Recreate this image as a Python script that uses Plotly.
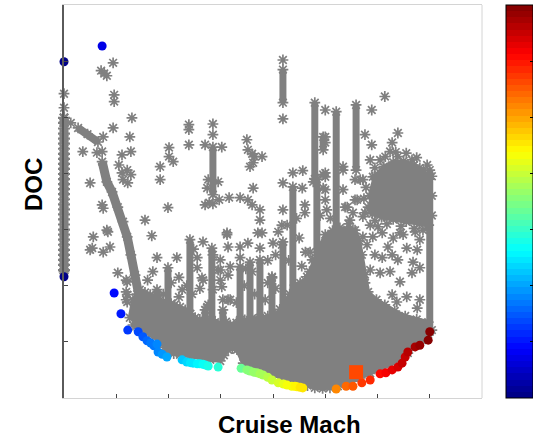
import plotly.graph_objects as go

# ---------------------------------------------------------------------------
# Design-space survey: DOC versus cruise Mach (normalised axis units)
# ---------------------------------------------------------------------------

# Pareto-optimal designs, coloured by cruise Mach
front_mach = [0.00, 0.73, 0.00, 0.96, 1.09, 1.22, 1.42, 1.51, 1.59, 1.66, 1.72,
              1.78, 1.80, 1.88, 1.97, 2.26, 2.35, 2.42, 2.47, 2.55, 2.60, 2.66,
              2.70, 2.76, 2.95, 3.39, 3.50, 3.56, 3.63, 3.69, 3.75, 3.81, 3.90,
              3.98, 4.10, 4.20, 4.27, 4.36, 4.42, 4.46, 4.52, 4.57, 5.21, 5.40,
              5.53, 5.70, 5.86, 6.05, 6.16, 6.28, 6.39, 6.47, 6.53, 6.58, 6.72,
              6.81, 6.97, 7.00]
front_doc = [5.99, 6.27, 2.16, 1.87, 1.50, 1.21, 1.18, 1.09, 1.02, 0.98, 0.93,
             0.96, 0.82, 0.78, 0.73, 0.68, 0.64, 0.63, 0.62, 0.61, 0.61, 0.60,
             0.59, 0.57, 0.55, 0.53, 0.50, 0.48, 0.46, 0.45, 0.43, 0.41, 0.37,
             0.32, 0.27, 0.25, 0.23, 0.21, 0.21, 0.20, 0.19, 0.18, 0.16, 0.21,
             0.21, 0.27, 0.32, 0.43, 0.45, 0.50, 0.55, 0.62, 0.73, 0.82, 0.91,
             0.94, 1.03, 1.18]

# Selected design
chosen_mach = [5.59]
chosen_doc = [0.46]

# Designs of the lowest-Mach sweep (Mach index 0)
left_sweep_doc = [2.28, 2.37, 2.46, 2.55, 2.64, 2.73, 2.82, 2.91, 3.00, 3.09,
                  3.18, 3.27, 3.36, 3.45, 3.54, 3.63, 3.72, 3.81, 3.90, 3.99,
                  4.08, 4.17, 4.26, 4.35, 4.44, 4.53, 4.62, 4.71, 4.80, 4.90,
                  4.99]

# Individually visible designs of the survey
gray_points = [
    (0.94, 5.97), (0.71, 5.83), (0.77, 5.78), (0.82, 5.74), (0.96, 5.40), (0.96, 5.28),
    (0.00, 5.42), (0.00, 5.17), (1.30, 4.99), (0.13, 4.90), (0.94, 4.81), (1.26, 4.65),
    (0.75, 4.65), (0.36, 4.39), (0.63, 4.37), (0.73, 4.39), (1.11, 4.33), (1.28, 4.39),
    (1.05, 4.15), (1.21, 4.06), (1.11, 4.01), (1.28, 3.98), (1.22, 3.83), (0.50, 3.83),
    (1.13, 3.89), (1.84, 4.12), (1.84, 3.89), (2.01, 4.46), (2.01, 4.30), (2.09, 4.21),
    (2.39, 4.87), (2.39, 4.78), (2.39, 4.51), (2.85, 4.88), (2.85, 4.69), (2.70, 4.51),
    (3.02, 4.47), (2.76, 3.89), (2.95, 3.85), (2.74, 3.74), (2.78, 3.48), (2.70, 3.44),
    (2.85, 3.46), (2.97, 3.53), (3.16, 3.57), (3.37, 3.57), (3.52, 3.53), (3.60, 3.44),
    (3.50, 4.60), (3.52, 4.42), (3.65, 4.30), (3.79, 4.30), (3.62, 4.19), (3.56, 4.12),
    (3.60, 4.35), (3.62, 3.74), (1.99, 3.39), (1.55, 3.17), (1.68, 2.89), (1.78, 2.50),
    (2.16, 2.50), (0.73, 3.44), (0.75, 3.38), (0.56, 2.87), (0.54, 2.67), (0.75, 2.60),
    (0.88, 2.69), (0.82, 2.99), (0.50, 2.64), (1.03, 2.23), (1.21, 2.07), (1.21, 1.84),
    (1.21, 1.71), (4.19, 6.02), (4.19, 4.97), (5.00, 5.13), (5.00, 4.65), (5.00, 4.55),
    (5.89, 5.13), (6.14, 5.37), (5.76, 4.69), (6.39, 4.72), (5.89, 4.51), (5.34, 4.12),
    (4.38, 4.01), (4.57, 4.05), (4.19, 3.83), (4.77, 3.85), (4.56, 3.74), (5.00, 3.94),
    (5.00, 3.71), (5.38, 3.40), (5.53, 3.30), (5.57, 3.89), (5.57, 3.53), (3.75, 3.35),
    (3.75, 3.17), (4.19, 3.35), (4.17, 3.08), (4.27, 3.08), (4.61, 3.44), (4.61, 3.30),
    (4.10, 2.96), (4.17, 2.73), (4.71, 2.60), (4.75, 2.46), (4.65, 2.16), (4.75, 1.98),
    (3.12, 2.94), (3.79, 2.94), (2.66, 2.78), (3.14, 2.69), (3.37, 2.69), (3.52, 2.76),
    (4.00, 2.76), (2.99, 2.28), (3.18, 2.34), (3.02, 1.98), (3.98, 2.14), (3.04, 1.75),
    (3.14, 1.75), (2.74, 1.62), (2.55, 2.50), (2.55, 2.32), (2.64, 2.14), (2.85, 1.93),
    (2.76, 1.66), (6.28, 4.55), (6.24, 4.39), (6.39, 4.30), (6.66, 4.24), (6.81, 4.10),
    (5.86, 4.24), (6.05, 4.24), (5.91, 3.94), (5.72, 3.89), (5.42, 3.40), (5.72, 3.23),
    (5.86, 3.08), (6.01, 3.05), (5.53, 2.99), (5.72, 2.87), (5.91, 2.87), (6.43, 2.94),
    (6.87, 2.99), (6.09, 2.94), (6.30, 2.85), (6.49, 2.91), (6.72, 2.96), (6.81, 2.82),
    (5.47, 2.78), (5.80, 2.73), (6.20, 2.69), (6.56, 2.67), (6.76, 2.64), (5.95, 2.55),
    (6.09, 2.50), (6.28, 2.55), (6.39, 2.46), (6.68, 2.42), (5.86, 2.28), (6.05, 2.23),
    (6.24, 2.25), (6.43, 2.07), (6.66, 2.23), (6.81, 2.32), (5.76, 2.05), (6.56, 1.80),
    (6.81, 1.75), (6.76, 1.60), (6.28, 1.84), (6.37, 1.71), (4.96, 3.98), (4.96, 3.74),
    (5.00, 3.53), (5.10, 3.20), (5.45, 3.10), (4.90, 3.25), (5.30, 2.75), (2.35, 2.00),
    (2.45, 1.85), (2.60, 1.95), (2.20, 1.80), (1.90, 1.85), (3.45, 2.00), (3.65, 1.85),
    (3.85, 1.75), (3.90, 2.05), (3.30, 1.70), (3.60, 2.25), (4.05, 1.95),
    (2.85, 2.55), (2.99, 2.46), (3.14, 2.19), (2.99, 2.10), (3.37, 2.50), (3.75, 2.67),
    (0.84, 2.96), (3.12, 2.91), (3.71, 2.94), (2.66, 2.10), (3.18, 1.75), (2.95, 2.28),
    (2.26, 1.93), (1.19, 2.10), (1.19, 1.89), (1.19, 1.75), (5.00, 4.01), (5.34, 4.06),
    (5.34, 3.71), (5.67, 3.89), (5.61, 3.53), (5.03, 3.35), (5.47, 3.17), (4.45, 3.20),
    (4.50, 2.85), (4.62, 2.60), (4.30, 2.45), (4.55, 2.35), (2.20, 2.15), (2.05, 2.05),
    (1.60, 2.10), (1.70, 2.25), (2.48, 2.65), (3.48, 2.30), (3.90, 2.45), (4.05, 2.55),
    (5.74, 3.55), (5.78, 3.75), (5.95, 4.10), (6.15, 4.30), (6.35, 4.38), (6.55, 4.36),
    (6.75, 4.28), (6.95, 4.15), (7.04, 3.95), (7.04, 3.60), (7.04, 3.25), (6.95, 3.02),
    (6.70, 3.02), (6.45, 3.06), (6.18, 3.10), (5.95, 3.16), (5.76, 3.30),
]

# Densely sampled sweeps at fixed Mach: (mach, lowest DOC, highest DOC)
streak_mach = [0.00, 2.85, 4.19, 4.80, 4.84, 5.21, 5.59, 4.38, 7.00, 2.41, 1.99,
               1.78, 2.83, 2.70, 3.04, 3.56, 3.75, 3.37, 4.19, 3.98, 4.96]
streak_low = [2.25, 3.62, 5.26, 3.90, 1.90, 2.82, 4.06, 1.75, 1.18, 1.39, 1.57,
              1.57, 1.39, 1.30, 1.30, 1.39, 1.39, 1.39, 1.57, 1.39, 4.42]
streak_high = [4.99, 4.47, 5.85, 5.26, 3.90, 5.10, 5.22, 3.76, 4.06, 2.82, 2.32,
               1.93, 2.67, 1.57, 1.57, 2.42, 2.46, 2.34, 2.78, 2.16, 4.65]

# Diagonal bands of designs at low Mach
band_mach = [0.73, 0.82, 0.92, 1.03, 1.13, 1.21, 1.28, 1.36, 1.45]
band_doc = [4.21, 3.85, 3.67, 3.40, 3.14, 2.87, 2.55, 2.19, 1.75]
band2_mach = [0.27, 0.45, 0.65]
band2_doc = [4.81, 4.70, 4.56]

# Outline of the solid low-DOC region of the survey
cloud_mach = [1.26, 1.32, 1.40, 1.45, 1.55, 1.65, 1.75, 1.84, 1.95, 2.05, 2.12,
              2.22, 2.32, 2.42, 2.51, 2.60, 2.70, 2.80, 2.89, 3.00, 3.10, 3.18,
              3.30, 3.46, 3.60, 3.75, 3.90, 4.04, 4.13, 4.23, 4.32, 4.42, 4.52,
              4.61, 4.70, 4.80, 4.90, 5.00, 5.14, 5.28, 5.42, 5.57, 5.65, 5.70,
              5.76, 5.82, 5.98, 6.14, 6.33, 6.53, 6.75, 6.97, 7.04,
              6.97, 6.85, 6.72, 6.58, 6.43, 6.25, 6.05, 5.86, 5.67, 5.52, 5.38,
              5.24, 5.09, 4.95, 4.80, 4.66, 4.52, 4.33, 4.13, 3.94, 3.75, 3.59,
              3.43, 3.31, 3.22, 3.14, 3.06, 2.99, 2.80, 2.60, 2.40, 2.22, 2.10,
              1.99, 1.92, 1.84, 1.70, 1.55, 1.43, 1.32]
cloud_doc = [1.43, 1.75, 1.85, 1.93, 1.88, 1.84, 1.80, 1.75, 1.70, 1.68, 1.66,
             1.62, 1.57, 1.50, 1.43, 1.40, 1.35, 1.38, 1.35, 1.33, 1.36, 1.30,
             1.34, 1.39, 1.42, 1.43, 1.46, 1.48, 1.58, 1.66, 1.85, 2.01, 2.05,
             2.10, 2.25, 2.46, 2.70, 2.91, 2.98, 3.03, 3.00, 2.99, 2.80, 2.55,
             2.20, 1.89, 1.75, 1.66, 1.55, 1.46, 1.40, 1.35, 1.21,
             1.14, 1.03, 0.93, 0.80, 0.70, 0.60, 0.52, 0.44, 0.36, 0.30, 0.25,
             0.21, 0.18, 0.17, 0.18, 0.22, 0.27, 0.32, 0.37, 0.44, 0.52, 0.57,
             0.62, 0.86, 0.88, 0.86, 0.76, 0.66, 0.68, 0.71, 0.74, 0.77, 0.79,
             0.82, 0.90, 1.00, 1.10, 1.18, 1.24, 1.30]

# Outline of the dense core of the high-Mach cluster
cluster_mach = [5.85, 5.95, 6.12, 6.30, 6.50, 6.70, 6.88, 6.98, 6.98, 6.80, 6.55,
                6.30, 6.08, 5.90, 5.82]
cluster_doc = [3.60, 3.95, 4.12, 4.20, 4.22, 4.15, 4.05, 3.90, 3.08, 3.10, 3.14,
               3.18, 3.22, 3.28, 3.40]

x_ticks = [0, 1, 2, 3, 4, 5, 6, 7, 8]
y_ticks = [0, 1, 2, 3, 4, 5, 6, 7]
bar_ticks = [1, 2, 3, 4, 5, 6]
mach_min, mach_max = 0.0, 7.0

GRAY = "#808080"
STAR = dict(symbol="asterisk-open", size=9, color=GRAY,
            line=dict(color=GRAY, width=1.7))


def jet(t):
    """MATLAB-style jet colour for t in [0, 1]."""
    def ch(v):
        return max(0.0, min(1.0, v))
    r = ch(1.5 - abs(4 * t - 3))
    g = ch(1.5 - abs(4 * t - 2))
    b = ch(1.5 - abs(4 * t - 1))
    return "rgb(%d,%d,%d)" % (round(r * 255), round(g * 255), round(b * 255))


# 64-level stepped jet colour scale
n_levels = 64
jet_scale = []
for i in range(n_levels):
    c = jet((i + 0.5) / n_levels)
    jet_scale.append([i / n_levels, c])
    jet_scale.append([(i + 1) / n_levels, c])

fig = go.Figure()

# solid regions, with the outermost designs drawn on their edges
for mx, dy in ((cloud_mach, cloud_doc), (cluster_mach, cluster_doc)):
    fig.add_trace(go.Scatter(x=mx, y=dy, mode="lines+markers", fill="toself",
                             fillcolor=GRAY, line=dict(color=GRAY, width=4),
                             marker=STAR, hoverinfo="skip", cliponaxis=False))

# fixed-Mach sweeps
sx, sy = [], []
for m, lo, hi in zip(streak_mach, streak_low, streak_high):
    sx += [m, m, None]
    sy += [lo, hi, None]
fig.add_trace(go.Scatter(x=sx, y=sy, mode="lines+markers",
                         line=dict(color=GRAY, width=7), marker=STAR,
                         hoverinfo="skip", cliponaxis=False))

# lowest-Mach sweep, drawn as individual designs so it straddles the axis
fig.add_trace(go.Scatter(x=[0.0] * len(left_sweep_doc), y=left_sweep_doc,
                         mode="markers", cliponaxis=False,
                         marker=dict(symbol="asterisk-open", size=10, color=GRAY,
                                     line=dict(color=GRAY, width=2.2)),
                         hoverinfo="skip"))

# diagonal bands
fig.add_trace(go.Scatter(x=band_mach, y=band_doc, mode="lines+markers",
                         line=dict(color=GRAY, width=9), marker=STAR,
                         hoverinfo="skip"))
fig.add_trace(go.Scatter(x=band2_mach, y=band2_doc, mode="lines+markers",
                         line=dict(color=GRAY, width=8), marker=STAR,
                         hoverinfo="skip"))

# individual designs
gx = [p[0] for p in gray_points]
gy = [p[1] for p in gray_points]
fig.add_trace(go.Scatter(x=gx, y=gy, mode="markers", cliponaxis=False,
                         marker=STAR, hoverinfo="skip"))

# Pareto front
fig.add_trace(go.Scatter(x=front_mach, y=front_doc, mode="markers", cliponaxis=False,
                         marker=dict(symbol="circle", size=9, color=front_mach,
                                     coloraxis="coloraxis", line=dict(width=0))))

# selected design
fig.add_trace(go.Scatter(x=chosen_mach, y=chosen_doc, mode="markers", cliponaxis=False,
                         marker=dict(symbol="square", size=14, color=chosen_mach,
                                     coloraxis="coloraxis", line=dict(width=0))))

# colour-bar tick marks on the inner (left) edge of the bar
bar_left = 1.0574
bar_tick_shapes = [dict(type="line", xref="paper", yref="paper",
                        x0=bar_left, x1=bar_left + 0.008,
                        y0=(v - mach_min) / (mach_max - mach_min),
                        y1=(v - mach_min) / (mach_max - mach_min),
                        line=dict(color="black", width=1))
                   for v in bar_ticks]

fig.update_layout(
    width=533, height=440,
    margin=dict(l=64, r=51, t=5, b=42, autoexpand=False),
    plot_bgcolor="white", paper_bgcolor="white",
    showlegend=False,
    coloraxis=dict(
        colorscale=jet_scale, cmin=mach_min, cmax=mach_max,
        colorbar=dict(
            x=bar_left, xanchor="left", xpad=0, ypad=0,
            y=0.5, yanchor="middle", len=393, lenmode="pixels",
            thickness=27, thicknessmode="pixels",
            outlinewidth=1, outlinecolor="black",
            tickmode="array", tickvals=bar_ticks, ticks="inside",
            ticklen=3, tickcolor="black", showticklabels=False,
        ),
    ),
    xaxis=dict(range=[0, 8], showgrid=False, zeroline=False, showline=True,
               linecolor="#d4d4d4", linewidth=1, mirror=True,
               ticks="inside", ticklen=4, tickcolor="#444444",
               tickmode="array", tickvals=x_ticks, showticklabels=False),
    yaxis=dict(range=[0, 7], showgrid=False, zeroline=False, showline=True,
               linecolor="#5a5a5a", linewidth=2,
               ticks="inside", ticklen=4, tickcolor="#444444",
               tickmode="array", tickvals=y_ticks, showticklabels=False),
    shapes=[dict(type="line", xref="paper", yref="paper", x0=1, x1=1, y0=0, y1=1,
                 line=dict(color="#d4d4d4", width=1))] + bar_tick_shapes,
    annotations=[
        dict(text="<b>Cruise Mach</b>", xref="paper", yref="paper",
             x=0.540, y=-0.0687, xanchor="center", yanchor="middle",
             showarrow=False,
             font=dict(family="Liberation Sans, Arial, sans-serif", size=24, color="black")),
        dict(text="<b>DOC</b>", xref="paper", yref="paper",
             x=-0.0742, y=0.5445, xanchor="center", yanchor="middle",
             textangle=-90, showarrow=False,
             font=dict(family="Liberation Sans, Arial, sans-serif", size=24, color="black")),
    ],
)

fig.write_html("out.html")
